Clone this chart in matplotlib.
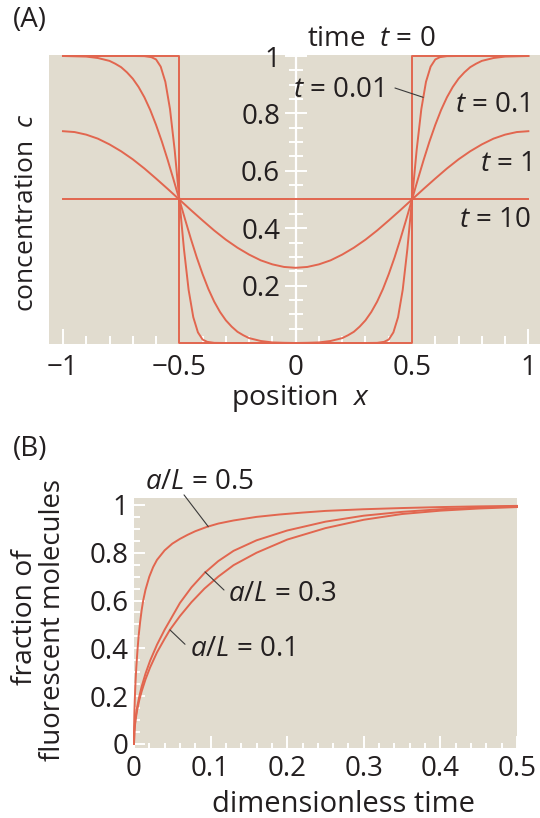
import matplotlib
matplotlib.use('Agg')
import matplotlib.pyplot as plt
from matplotlib.ticker import FixedLocator, MultipleLocator

plt.rcParams['font.family'] = ['Open Sans', 'DejaVu Sans']
plt.rcParams['mathtext.fontset'] = 'custom'
plt.rcParams['mathtext.it'] = 'Open Sans:italic'
plt.rcParams['mathtext.rm'] = 'Open Sans'

# ---------------- data: panel A (concentration profiles) ----------------
x_t0 = [-1.0, -0.5, -0.5, 0.5, 0.5, 1.0]
c_t0 = [1.0, 1.0, 0.0, 0.0, 1.0, 1.0]

x_t001 = [-1.0, -0.7, -0.65, -0.62, -0.6, -0.58, -0.56, -0.54, -0.52, -0.5,
          -0.48, -0.46, -0.44, -0.42, -0.4, -0.38, -0.35, -0.3, 0.0,
          0.3, 0.35, 0.38, 0.4, 0.42, 0.44, 0.46, 0.48, 0.5,
          0.52, 0.54, 0.56, 0.58, 0.6, 0.62, 0.65, 0.7, 1.0]
c_t001 = [1.0, 1.0, 0.9995, 0.996, 0.988, 0.963, 0.91, 0.815, 0.673, 0.5,
          0.327, 0.185, 0.09, 0.037, 0.012, 0.004, 0.0005, 0.0, 0.0,
          0.0, 0.0005, 0.004, 0.012, 0.037, 0.09, 0.185, 0.327, 0.5,
          0.673, 0.815, 0.91, 0.963, 0.988, 0.996, 0.9995, 1.0, 1.0]

x_t01 = [-1.0, -0.9, -0.85, -0.8, -0.775, -0.75, -0.725, -0.7, -0.675, -0.65,
         -0.625, -0.6, -0.575, -0.55, -0.525, -0.5, -0.475, -0.45, -0.425, -0.4,
         -0.375, -0.35, -0.325, -0.3, -0.275, -0.25, -0.225, -0.2, -0.15, -0.1,
         -0.05, 0.0, 0.05, 0.1, 0.15, 0.2, 0.225, 0.25, 0.275, 0.3,
         0.325, 0.35, 0.375, 0.4, 0.425, 0.45, 0.475, 0.5, 0.525, 0.55,
         0.575, 0.6, 0.625, 0.65, 0.675, 0.7, 0.725, 0.75, 0.775, 0.8,
         0.85, 0.9, 1.0]
c_t01 = [1.0, 0.998, 0.993, 0.983, 0.973, 0.961, 0.943, 0.921, 0.892, 0.856,
         0.812, 0.76, 0.702, 0.638, 0.57, 0.5, 0.43, 0.362, 0.298, 0.24,
         0.188, 0.144, 0.108, 0.079, 0.057, 0.039, 0.027, 0.017, 0.007, 0.002,
         0.0007, 0.0, 0.0007, 0.002, 0.007, 0.017, 0.027, 0.039, 0.057, 0.079,
         0.108, 0.144, 0.188, 0.24, 0.298, 0.362, 0.43, 0.5, 0.57, 0.638,
         0.702, 0.76, 0.812, 0.856, 0.892, 0.921, 0.943, 0.961, 0.973, 0.983,
         0.993, 0.998, 1.0]

x_t1 = [-1.0, -0.95, -0.9, -0.85, -0.8, -0.75, -0.7, -0.65, -0.6, -0.55, -0.5,
        -0.45, -0.4, -0.35, -0.3, -0.25, -0.2, -0.15, -0.1, -0.05, 0.0,
        0.05, 0.1, 0.15, 0.2, 0.25, 0.3, 0.35, 0.4, 0.45, 0.5,
        0.55, 0.6, 0.65, 0.7, 0.75, 0.8, 0.85, 0.9, 0.95, 1.0]
c_t1 = [0.738, 0.735, 0.726, 0.712, 0.692, 0.668, 0.64, 0.608, 0.573, 0.537, 0.5,
        0.463, 0.427, 0.392, 0.36, 0.332, 0.308, 0.288, 0.274, 0.265, 0.262,
        0.265, 0.274, 0.288, 0.308, 0.332, 0.36, 0.392, 0.427, 0.463, 0.5,
        0.537, 0.573, 0.608, 0.64, 0.668, 0.692, 0.712, 0.726, 0.735, 0.738]

x_t10 = [-1.0, 1.0]
c_t10 = [0.5, 0.5]

xA_ticks = [-1, -0.5, 0, 0.5, 1]
xA_labels = ['\u22121', '\u22120.5', '0', '0.5', '1']
yA_ticks = [0.2, 0.4, 0.6, 0.8, 1.0]
yA_labels = ['0.2', '0.4', '0.6', '0.8', '1']

# ---------------- data: panel B (recovery curves) ----------------
t_05 = [0, 0.0002, 0.0005, 0.001, 0.002, 0.003, 0.0045, 0.006, 0.008, 0.01,
        0.012, 0.015, 0.02, 0.025, 0.03, 0.035, 0.04, 0.05, 0.06, 0.07,
        0.08, 0.095, 0.11, 0.13, 0.16, 0.19, 0.22, 0.25, 0.3, 0.35,
        0.4, 0.45, 0.5]
f_05 = [0, 0.082, 0.13, 0.183, 0.26, 0.32, 0.39, 0.45, 0.51, 0.56,
        0.60, 0.645, 0.70, 0.74, 0.77, 0.79, 0.81, 0.838, 0.858, 0.875,
        0.89, 0.908, 0.922, 0.935, 0.95, 0.96, 0.968, 0.975, 0.982, 0.987,
        0.991, 0.994, 0.996]

t_03 = [0, 0.0005, 0.001, 0.002, 0.004, 0.007, 0.01, 0.015, 0.021, 0.03,
        0.04, 0.047, 0.06, 0.075, 0.092, 0.11, 0.13, 0.16, 0.2, 0.25,
        0.3, 0.35, 0.4, 0.45, 0.5]
f_03 = [0, 0.054, 0.076, 0.107, 0.152, 0.20, 0.24, 0.294, 0.348, 0.415,
        0.478, 0.517, 0.59, 0.655, 0.715, 0.765, 0.808, 0.852, 0.893, 0.93,
        0.955, 0.971, 0.982, 0.989, 0.994]

t_01 = [0, 0.0005, 0.001, 0.002, 0.004, 0.007, 0.01, 0.015, 0.021, 0.03,
        0.04, 0.047, 0.06, 0.075, 0.092, 0.11, 0.13, 0.16, 0.2, 0.25,
        0.3, 0.35, 0.4, 0.45, 0.5]
f_01 = [0, 0.049, 0.07, 0.099, 0.14, 0.185, 0.22, 0.27, 0.32, 0.383,
        0.44, 0.478, 0.535, 0.593, 0.65, 0.70, 0.748, 0.80, 0.855, 0.903,
        0.938, 0.962, 0.976, 0.985, 0.991]

xB_ticks = [0, 0.1, 0.2, 0.3, 0.4, 0.5]
xB_labels = ['0', '0.1', '0.2', '0.3', '0.4', '0.5']
yB_ticks = [0, 0.2, 0.4, 0.6, 0.8, 1.0]
yB_labels = ['0', '0.2', '0.4', '0.6', '0.8', '1']

# ---------------- styling ----------------
W, H = 540, 818
BG = '#e1dccf'
RED = '#e2664f'
INK = '#231f20'
LEAD = '#3a3a3a'
FS = 20
LW = 1.4


def fxy(px, py):
    return px / W, 1 - py / H


fig = plt.figure(figsize=(W / 100, H / 100), dpi=100)

# ---------------- panel A ----------------
axA = fig.add_axes([49 / W, 1 - 344 / H, 1 - 49 / W, (344 - 55) / H])
axA.set_facecolor(BG)
for xs, cs in [(x_t0, c_t0), (x_t001, c_t001), (x_t01, c_t01), (x_t1, c_t1), (x_t10, c_t10)]:
    axA.plot(xs, cs, color=RED, lw=LW, zorder=3)
axA.set_xlim(-1.06, 1.05)
axA.set_ylim(-0.0035, 1.0035)
for s in ['top', 'right', 'bottom']:
    axA.spines[s].set_visible(False)
axA.spines['left'].set_position(('data', 0))
axA.spines['left'].set_color('white')
axA.spines['left'].set_linewidth(1.6)

axA.xaxis.set_major_locator(FixedLocator(xA_ticks))
axA.xaxis.set_minor_locator(MultipleLocator(0.1))
axA.set_xticklabels(xA_labels)
axA.tick_params(axis='x', which='major', direction='in', length=10.8, width=1.4,
                color='white', pad=7, labelsize=FS, labelcolor=INK)
axA.tick_params(axis='x', which='minor', direction='in', length=5.8, width=1.4, color='white')
axA.yaxis.set_major_locator(FixedLocator(yA_ticks))
axA.yaxis.set_minor_locator(MultipleLocator(0.05))
axA.set_yticklabels(yA_labels)
axA.tick_params(axis='y', which='major', direction='inout', length=15.8, width=1.4,
                color='white', pad=3.2, labelsize=FS, labelcolor=INK)
axA.tick_params(axis='y', which='minor', direction='inout', length=10, width=1.4, color='white')

fig.text(*fxy(13, 27), '(A)', fontsize=FS, color=INK, ha='left', va='baseline')
fig.text(*fxy(307, 46), 'time  $t$ = 0', fontsize=FS, color=INK, ha='left', va='baseline')
fig.text(*fxy(293, 97), '$t$ = 0.01', fontsize=FS, color=INK, ha='left', va='baseline')
fig.text(*fxy(455, 112), '$t$ = 0.1', fontsize=FS, color=INK, ha='left', va='baseline')
fig.text(*fxy(480, 171), '$t$ = 1', fontsize=FS, color=INK, ha='left', va='baseline')
fig.text(*fxy(459, 227), '$t$ = 10', fontsize=FS, color=INK, ha='left', va='baseline')
fig.text(*fxy(300, 405), 'position  $x$', fontsize=20.5, color=INK, ha='center', va='baseline')
fig.text(*fxy(27, 212), 'concentration  $c$', fontsize=19, color=INK, ha='center',
         va='center', rotation=90)
axA.annotate('', xy=(0.548, 0.856), xytext=(0.4267, 0.8885),
             arrowprops=dict(arrowstyle='-', color=LEAD, lw=0.8, shrinkA=0, shrinkB=0))

# ---------------- panel B ----------------
axB = fig.add_axes([134 / W, 1 - 748 / H, (517 - 134) / W, (748 - 498) / H])
axB.set_facecolor(BG)
for ts, fs in [(t_05, f_05), (t_03, f_03), (t_01, f_01)]:
    axB.plot(ts, fs, color=RED, lw=LW, zorder=3, clip_on=False)
axB.set_xlim(0, 0.5)
axB.set_ylim(-0.017, 1.029)
for s in axB.spines.values():
    s.set_visible(False)
axB.xaxis.set_major_locator(FixedLocator(xB_ticks))
axB.xaxis.set_minor_locator(MultipleLocator(0.02))
axB.set_xticklabels(xB_labels)
axB.yaxis.set_major_locator(FixedLocator(yB_ticks))
axB.yaxis.set_minor_locator(MultipleLocator(0.05))
axB.set_yticklabels(yB_labels)
axB.tick_params(axis='x', which='major', direction='in', length=8.6, width=1.4,
                color='white', pad=5.2, labelsize=FS, labelcolor=INK)
axB.tick_params(axis='x', which='minor', direction='in', length=3.6, width=1.4, color='white')
axB.tick_params(axis='y', which='major', direction='in', length=7.9, width=1.4,
                color='white', pad=4.0, labelsize=FS, labelcolor=INK)
axB.tick_params(axis='y', which='minor', direction='in', length=4.3, width=1.4, color='white')

fig.text(*fxy(13, 456), '(B)', fontsize=FS, color=INK, ha='left', va='baseline')
fig.text(*fxy(145, 489), '$a/L$ = 0.5', fontsize=FS, color=INK, ha='left', va='baseline')
fig.text(*fxy(228, 601), '$a/L$ = 0.3', fontsize=FS, color=INK, ha='left', va='baseline')
fig.text(*fxy(190, 656), '$a/L$ = 0.1', fontsize=FS, color=INK, ha='left', va='baseline')
fig.text(*fxy(344, 812), 'dimensionless time', fontsize=21, color=INK, ha='center', va='baseline')
fig.text(*fxy(25, 617), 'fraction of', fontsize=20.3, color=INK, ha='center', va='center', rotation=90)
fig.text(*fxy(53, 620), 'fluorescent molecules', fontsize=19.8, color=INK, ha='center',
         va='center', rotation=90)

lead_kw = dict(arrowstyle='-', color=LEAD, lw=0.8, shrinkA=0, shrinkB=0)
axB.annotate('', xy=(0.097, 0.909), xytext=(0.0653, 1.042), arrowprops=lead_kw, annotation_clip=False)
axB.annotate('', xy=(0.0927, 0.72), xytext=(0.1175, 0.644), arrowprops=lead_kw)
axB.annotate('', xy=(0.047, 0.477), xytext=(0.0666, 0.417), arrowprops=lead_kw)

fig.savefig('out.png', dpi=100)
